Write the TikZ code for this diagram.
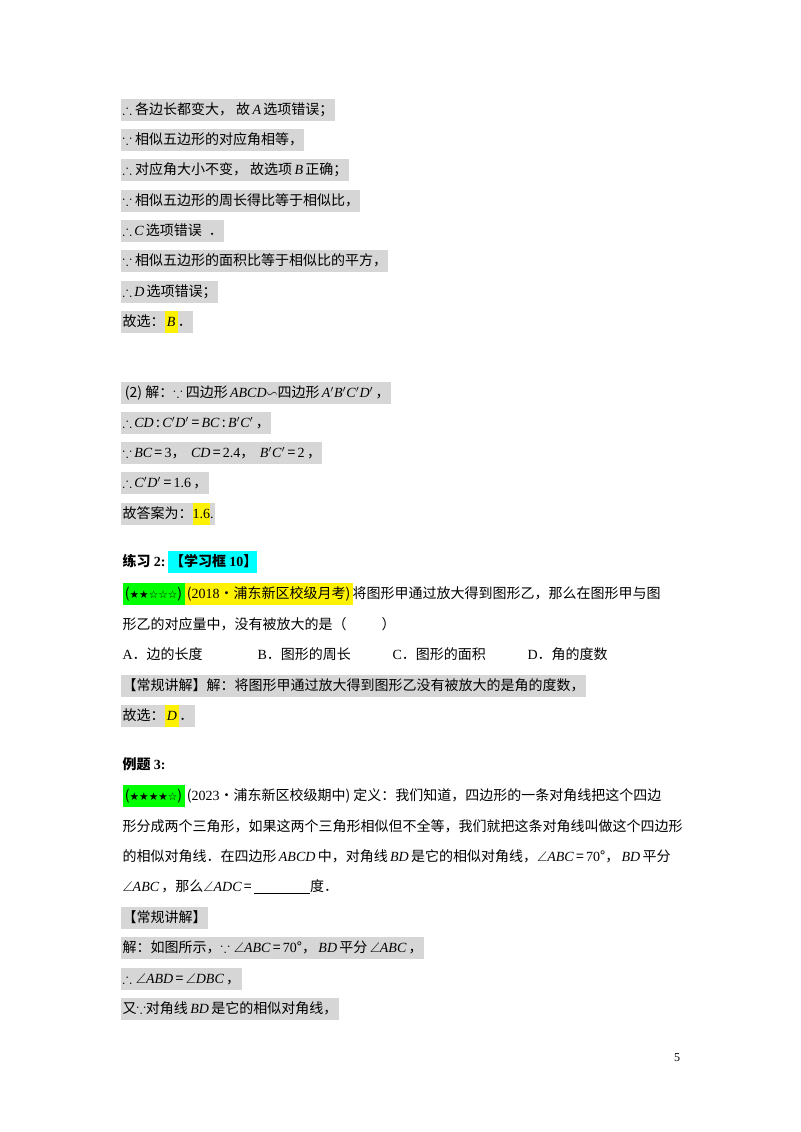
\documentclass[tikz,border=0pt]{standalone}
\usepackage{amssymb}
\usepackage{fontspec}
\setmainfont{Noto Sans CJK SC}
\newfontfamily\lat{Liberation Serif}
\newfontfamily\sym{DejaVu Sans}
\usepackage{xcolor}
\definecolor{hlgray}{RGB}{214,214,214}
\definecolor{hlgreen}{RGB}{0,255,0}
\definecolor{hlcyan}{RGB}{0,255,255}
\newcommand\m[1]{{\lat\itshape #1}}
\newcommand\n[1]{{\lat #1}}
\newcommand\hy[2][yellow]{{\setlength\fboxsep{0pt}\colorbox{#1}{\rule[-4.5pt]{0pt}{16pt}#2}}}
\begin{document}
\begin{tikzpicture}[x=0.75pt,y=-0.75pt,font=\fontsize{10.5pt}{12pt}\selectfont,
  ln/.style={anchor=west,inner xsep=1pt,inner ysep=0pt,text height=11.5pt,text depth=4.5pt},
  hl/.style={ln,fill=hlgray}]
\useasboundingbox (0,0) rectangle (800,1132);

% first part
\node[hl] (l1) at (121,110) {$\therefore$ 各边长都变大， 故\,\m{A}\,选项错误；};
\node[hl] (l2) at (121,140) {$\because$ 相似五边形的对应角相等，};
\node[hl] (l3) at (121,170) {$\therefore$ 对应角大小不变， 故选项\,\m{B}\,正确；};
\node[hl] (l4) at (121,201) {$\because$ 相似五边形的周长得比等于相似比，};
\node[hl] (l5) at (121,231) {$\therefore$\,\m{C}\,选项错误\hspace{0.5em}．};
\node[hl] (l6) at (121,261) {$\because$ 相似五边形的面积比等于相似比的平方，};
\node[hl] (l7) at (121,292) {$\therefore$\,\m{D}\,选项错误；};
\node[hl] (l8) at (121,322) {故选：\hy{\,\m{B}\,}．};

% part (2)
\node[hl] (p1) at (121,393) {\,(2) 解：$\because$ 四边形\,\m{ABCD}$\backsim$四边形\,\m{A$'$B$'$C$'$D$'$}\,，};
\node[hl] (p2) at (121,423) {$\therefore$\,\m{CD}\,:\,\m{C$'$D$'$}\,=\,\m{BC}\,:\,\m{B$'$C$'$}\,，};
\node[hl] (p3) at (121,453) {$\because$\,\m{BC}\,=\,\n{3}，\, \m{CD}\,=\,\n{2.4}，\, \m{B$'$C$'$}\,=\,\n{2}\,，};
\node[hl] (p4) at (121,483) {$\therefore$\,\m{C$'$D$'$}\,=\,\n{1.6}\,，};
\node[hl] (p5) at (121,514) {故答案为：\hy{\n{1.6}}\n{.}};

% exercise 2
\node[ln] (e0) at (121,562) {\bfseries 练习 \n{2:}\,\hy[hlcyan]{\,【学习框 \n{10}】}};
\node[ln] (e1) at (121,594) {\hy[hlgreen]{\,(\sym\fontsize{8pt}{9pt}\selectfont ★★☆☆☆\normalfont\fontsize{10.5pt}{12pt}\selectfont)\,}\hy{\,(\n{2018}•浦东新区校级月考)\,}将图形甲通过放大得到图形乙，那么在图形甲与图};
\node[ln] (e2) at (121,625) {形乙的对应量中，没有被放大的是（\hspace{2.5em}）};
\node[ln] (oa) at (121,655) {\n{A}．边的长度};
\node[ln] (ob) at (256,655) {\n{B}．图形的周长};
\node[ln] (oc) at (391,655) {\n{C}．图形的面积};
\node[ln] (od) at (526,655) {\n{D}．角的度数};
\node[hl] (e3) at (121,686) {【常规讲解】解：将图形甲通过放大得到图形乙没有被放大的是角的度数，};
\node[hl] (e4) at (121,716) {故选：\hy{\,\m{D}\,}．};

% example 3
\node[ln] (x0) at (121,765) {\bfseries 例题 \n{3:}};
\node[ln] (x1) at (121,796) {\hy[hlgreen]{\,(\sym\fontsize{8pt}{9pt}\selectfont ★★★★☆\normalfont\fontsize{10.5pt}{12pt}\selectfont)\,}\,(\n{2023}•浦东新区校级期中) 定义：我们知道，四边形的一条对角线把这个四边};
\node[ln] (x2) at (121,827) {形分成两个三角形，如果这两个三角形相似但不全等，我们就把这条对角线叫做这个四边形};
\node[ln] (x3) at (121,857) {的相似对角线．在四边形\,\m{ABCD}\,中，对角线\,\m{BD}\,是它的相似对角线，$\angle$\m{ABC}\,=\,\n{70}°，\,\m{BD}\,平分};
\node[ln] (x4) at (121,887) {$\angle$\m{ABC}\,，那么$\angle$\m{ADC}\,=\,\underline{\hspace{4em}}度．};
\node[hl] (x5) at (121,918) {【常规讲解】};
\node[hl] (x6) at (121,948) {解：如图所示，$\because\angle$\m{ABC}\,=\,\n{70}°，\,\m{BD}\,平分\,$\angle$\m{ABC}\,，};
\node[hl] (x7) at (121,979) {$\therefore\angle$\m{ABD}\,=\,$\angle$\m{DBC}\,，};
\node[hl] (x8) at (121,1009) {又$\because$对角线\,\m{BD}\,是它的相似对角线，};

\node[font=\lat\fontsize{9pt}{10pt}\selectfont] (pg) at (677,1058) {5};
\end{tikzpicture}
\end{document}
